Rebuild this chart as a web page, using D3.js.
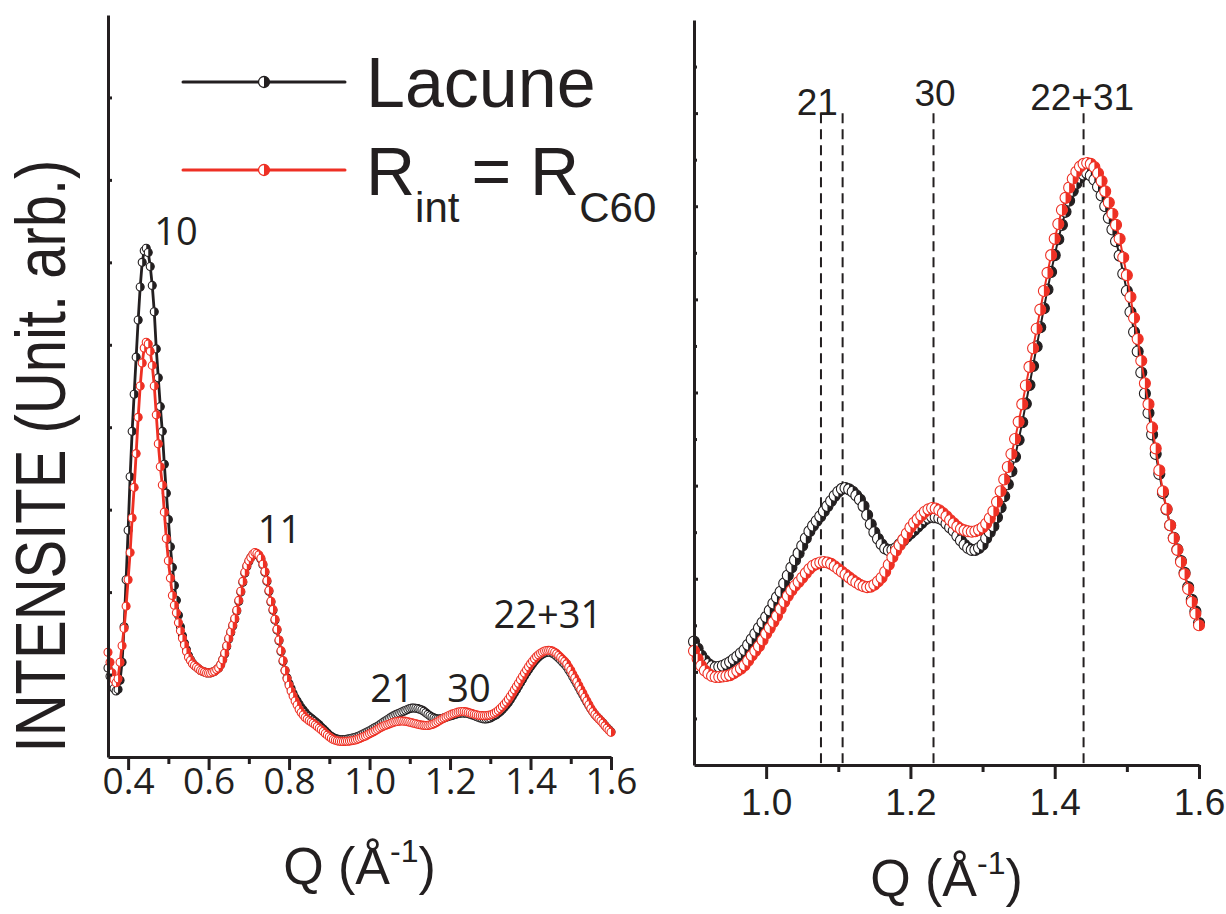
<!DOCTYPE html>
<html><head><meta charset="utf-8">
<script src="https://cdn.jsdelivr.net/npm/d3@7"></script>
<style>
html,body{margin:0;padding:0;background:#fff;}
svg{display:block;}
text{fill:#231f20;}
</style></head>
<body>
<svg id="chart" width="1226" height="914"></svg>
<script>
// ---------------- DATA ----------------
const Q_START = 0.35, Q_STEP = 0.005;   // sampling grid of Q (Å^-1)

// "Lacune" series (black), one value every 0.005 Å^-1 from 0.35 to 1.60
const lacune = [
 1.08,0.98,0.89,0.83,0.80,0.82,0.93,1.15,1.58,2.15,
 2.75,3.40,3.95,4.40,4.85,5.30,5.70,6.00,6.14,6.17,
 6.12,5.95,5.72,5.40,4.95,4.60,4.25,3.95,3.55,3.20,
 2.88,2.55,2.30,2.08,1.90,1.72,1.58,1.47,1.38,1.30,
 1.23,1.18,1.14,1.11,1.09,1.07,1.05,1.04,1.03,1.02,
 1.02,1.02,1.03,1.04,1.06,1.08,1.12,1.18,1.25,1.34,
 1.43,1.51,1.59,1.67,1.77,1.89,2.00,2.12,2.23,2.31,
 2.37,2.42,2.45,2.47,2.46,2.44,2.40,2.33,2.24,2.13,
 2.01,1.88,1.78,1.66,1.54,1.41,1.28,1.16,1.05,0.96,
 0.89,0.83,0.77,0.72,0.68,0.64,0.60,0.57,0.54,0.51,
 0.49,0.47,0.45,0.43,0.41,0.39,0.36,0.34,0.315,0.29,
 0.265,0.25,0.235,0.225,0.217,0.212,0.21,0.211,0.213,0.217,
 0.221,0.227,0.233,0.24,0.247,0.258,0.27,0.282,0.294,0.306,
 0.318,0.332,0.347,0.360,0.372,0.390,0.407,0.424,0.440,0.455,
 0.471,0.487,0.502,0.514,0.524,0.534,0.545,0.556,0.567,0.578,
 0.587,0.593,0.595,0.592,0.587,0.579,0.570,0.556,0.537,0.517,
 0.500,0.486,0.474,0.465,0.461,0.462,0.466,0.474,0.482,0.490,
 0.497,0.504,0.512,0.519,0.527,0.531,0.533,0.532,0.530,0.526,
 0.518,0.510,0.503,0.492,0.482,0.473,0.466,0.462,0.462,0.466,
 0.473,0.487,0.500,0.513,0.532,0.553,0.577,0.603,0.631,0.662,
 0.698,0.736,0.776,0.816,0.857,0.899,0.940,0.981,1.021,1.059,
 1.095,1.129,1.160,1.188,1.212,1.233,1.249,1.261,1.268,1.271,
 1.266,1.257,1.242,1.223,1.200,1.175,1.150,1.125,1.094,1.055,
 1.018,0.973,0.930,0.888,0.843,0.798,0.756,0.710,0.668,0.625,
 0.584,0.549,0.515,0.488,0.463,0.438,0.413,0.382,0.355,0.330,
 0.305
];

// "R_int = R_C60" series (red)
const rint = [
 1.27,1.15,1.02,0.94,0.90,0.95,1.15,1.35,1.56,1.83,
 2.15,2.48,2.90,3.27,3.68,4.12,4.50,4.78,4.96,5.03,
 5.01,4.92,4.75,4.50,4.15,3.80,3.52,3.30,2.97,2.65,
 2.38,2.17,1.96,1.84,1.75,1.63,1.53,1.44,1.36,1.28,
 1.21,1.17,1.13,1.11,1.09,1.07,1.05,1.04,1.03,1.02,
 1.02,1.02,1.03,1.04,1.06,1.08,1.12,1.18,1.26,1.35,
 1.44,1.52,1.60,1.68,1.78,1.90,2.01,2.13,2.24,2.32,
 2.38,2.42,2.46,2.48,2.47,2.45,2.41,2.34,2.25,2.14,
 2.02,1.89,1.79,1.67,1.55,1.42,1.29,1.17,1.05,0.95,
 0.87,0.80,0.74,0.68,0.63,0.58,0.54,0.51,0.48,0.46,
 0.44,0.425,0.41,0.39,0.37,0.35,0.33,0.31,0.285,0.265,
 0.245,0.228,0.213,0.203,0.196,0.191,0.189,0.189,0.19,0.191,
 0.193,0.197,0.202,0.207,0.214,0.224,0.235,0.245,0.255,0.268,
 0.282,0.294,0.307,0.320,0.335,0.350,0.363,0.375,0.385,0.393,
 0.402,0.412,0.421,0.428,0.432,0.435,0.436,0.435,0.432,0.427,
 0.421,0.415,0.409,0.403,0.397,0.392,0.387,0.384,0.382,0.383,
 0.387,0.394,0.402,0.415,0.430,0.446,0.460,0.472,0.484,0.497,
 0.510,0.520,0.528,0.536,0.544,0.549,0.552,0.551,0.547,0.541,
 0.534,0.526,0.519,0.512,0.507,0.504,0.502,0.501,0.502,0.505,
 0.510,0.518,0.530,0.545,0.565,0.588,0.613,0.640,0.668,0.700,
 0.737,0.775,0.815,0.855,0.895,0.937,0.978,1.018,1.057,1.095,
 1.130,1.162,1.192,1.218,1.240,1.259,1.274,1.285,1.291,1.293,
 1.291,1.284,1.271,1.254,1.232,1.208,1.184,1.160,1.130,1.090,
 1.052,1.005,0.960,0.915,0.868,0.820,0.775,0.725,0.680,0.633,
 0.588,0.550,0.515,0.487,0.462,0.436,0.410,0.378,0.350,0.325,
 0.300
];

const seriesNames = ["Lacune", "R_int = R_C60"];

// axis ticks
const leftMajorTicks  = [0.4, 0.6, 0.8, 1.0, 1.2, 1.4, 1.6];
const leftMinorTicks  = [0.5, 0.7, 0.9, 1.1, 1.3, 1.5];
const leftYTicks      = [1, 2, 3, 4, 5, 6, 7, 8];
const rightMajorTicks = [1.0, 1.2, 1.4, 1.6];
const rightMinorTicks = [1.1, 1.3, 1.5];
const rightYMajor     = [0.2, 0.4, 0.6, 0.8, 1.0, 1.2, 1.4];
const rightYMinor     = [0.1, 0.3, 0.5, 0.7, 0.9, 1.1, 1.3, 1.5];

// reflection labels (position in data units: q, intensity of baseline)
const leftLabels  = [
  {t:"10",    q:0.519, v:6.21},
  {t:"11",    q:0.776, v:2.60},
  {t:"21",    q:1.056, v:0.667},
  {t:"30",    q:1.247, v:0.667},
  {t:"22+31", q:1.443, v:1.566}
];
const rightLabels = [
  {t:"21",    q:1.071, v:1.396},
  {t:"30",    q:1.234, v:1.415},
  {t:"22+31", q:1.438, v:1.407}
];
const dashQ = [1.076, 1.106, 1.232, 1.440];
const DASH_TOP = 1.40;

// ---------------- DRAW ----------------
const INK = "#231f20", RED = "#ee3024";
const svg = d3.select("#chart");

const rows = lacune.map((v, i) => ({q: +(Q_START + i * Q_STEP).toFixed(3), a: v, b: rint[i]}));

const xL = d3.scaleLinear().domain([0.35, 1.6]).range([108, 611]);
const yL = d3.scaleLinear().domain([0, 9]).range([757, 15]);
const xR = d3.scaleLinear().domain([0.9, 1.6]).range([694, 1199]);
const yR = d3.scaleLinear().domain([0, 1.6]).range([765, 20]);

function drawSeries(g, rowsSub, x, y, key, color, r, lw) {
  const line = d3.line().x(d => x(d.q)).y(d => y(d[key]));
  g.append("path").datum(rowsSub).attr("d", line)
    .attr("fill", "none").attr("stroke", color).attr("stroke-width", lw)
    .attr("stroke-linejoin", "round");
  const m = g.append("g").selectAll("g").data(rowsSub).join("g")
    .attr("transform", d => `translate(${x(d.q)},${y(d[key])})`);
  m.append("circle").attr("r", r).attr("fill", "#fff")
    .attr("stroke", color).attr("stroke-width", 1.1);
  m.append("path").attr("d", `M0,${-r}A${r},${r} 0 0 1 0,${r}Z`).attr("fill", color);
}

function styleAxis(g, w) {
  g.selectAll(".domain").attr("stroke", INK).attr("stroke-width", w);
  g.selectAll(".tick line").attr("stroke", INK).attr("stroke-width", w);
}

// ---- LEFT PANEL ----
const gL = svg.append("g");
drawSeries(gL, rows, xL, yL, "a", INK, 4, 2.8);
drawSeries(gL, rows, xL, yL, "b", RED, 4, 2.8);

const axLx = gL.append("g").attr("transform", `translate(0,${yL(0)})`)
  .call(d3.axisBottom(xL).tickValues(leftMajorTicks).tickSize(13).tickSizeOuter(0)
    .tickFormat(d3.format(".1f")));
styleAxis(axLx, 3);
axLx.selectAll(".tick text").attr("font-family", "'Open Sans', sans-serif")
  .attr("font-size", 37).attr("fill", INK).attr("dy", 0).attr("y", 37);
const axLxm = gL.append("g").attr("transform", `translate(0,${yL(0)})`)
  .call(d3.axisBottom(xL).tickValues(leftMinorTicks).tickSize(7).tickFormat(""));
axLxm.select(".domain").remove();
styleAxis(axLxm, 3);

const axLy = gL.append("g").attr("transform", `translate(${xL(0.35)},0)`)
  .call(d3.axisRight(yL).tickValues(leftYTicks).tickSize(4).tickSizeOuter(0).tickFormat(""));
styleAxis(axLy, 3);

gL.selectAll("text.lab").data(leftLabels).join("text").attr("class", "lab")
  .attr("x", d => xL(d.q)).attr("y", d => yL(d.v))
  .attr("text-anchor", "middle").attr("font-family", "'Open Sans', sans-serif")
  .attr("font-size", 38).text(d => d.t);

// ---- RIGHT PANEL ----
const gR = svg.append("g");
const rowsR = rows.filter(d => d.q >= 0.9 - 1e-9);

gR.selectAll("line.dash").data(dashQ).join("line").attr("class", "dash")
  .attr("x1", d => xR(d)).attr("x2", d => xR(d))
  .attr("y1", yR(DASH_TOP)).attr("y2", yR(0))
  .attr("stroke", INK).attr("stroke-width", 2).attr("stroke-dasharray", "10,6");

drawSeries(gR, rowsR, xR, yR, "a", INK, 5.5, 2);
drawSeries(gR, rowsR, xR, yR, "b", RED, 5.5, 2);

const axRx = gR.append("g").attr("transform", `translate(0,${yR(0)})`)
  .call(d3.axisBottom(xR).tickValues(rightMajorTicks).tickSize(14).tickSizeOuter(0)
    .tickFormat(d3.format(".1f")));
styleAxis(axRx, 3);
axRx.selectAll(".tick text").attr("font-family", "'Liberation Sans', Arial, sans-serif")
  .attr("font-size", 37).attr("fill", INK).attr("dy", 0).attr("y", 50);
const axRxm = gR.append("g").attr("transform", `translate(0,${yR(0)})`)
  .call(d3.axisBottom(xR).tickValues(rightMinorTicks).tickSize(7).tickFormat(""));
axRxm.select(".domain").remove();
styleAxis(axRxm, 3);

const axRy = gR.append("g").attr("transform", `translate(${xR(0.9)},0)`)
  .call(d3.axisRight(yR).tickValues(rightYMajor).tickSize(4).tickSizeOuter(0).tickFormat(""));
styleAxis(axRy, 3);
const axRym = gR.append("g").attr("transform", `translate(${xR(0.9)},0)`)
  .call(d3.axisRight(yR).tickValues(rightYMinor).tickSize(3).tickFormat(""));
axRym.select(".domain").remove();
styleAxis(axRym, 3);

gR.selectAll("text.lab").data(rightLabels).join("text").attr("class", "lab")
  .attr("x", d => xR(d.q)).attr("y", d => yR(d.v))
  .attr("text-anchor", "middle").attr("font-family", "'Liberation Sans', Arial, sans-serif")
  .attr("font-size", 37).text(d => d.t);

// ---- TITLES ----
function qTitle(cx, baseline) {
  const t = svg.append("text").attr("x", cx).attr("y", baseline)
    .attr("text-anchor", "middle").attr("font-family", "'Liberation Sans', Arial, sans-serif")
    .attr("font-size", 52);
  t.append("tspan").text("Q (Å");
  t.append("tspan").attr("font-size", 32).attr("dy", -22).text("-1");
  t.append("tspan").attr("dy", 22).text(")");
}
qTitle((xL.range()[0] + xL.range()[1]) / 2, 884);
qTitle((xR.range()[0] + xR.range()[1]) / 2, 896);

svg.append("text")
  .attr("transform", "translate(65,456) rotate(-90) scale(1,1.2)")
  .attr("text-anchor", "middle").attr("font-family", "'Liberation Sans', Arial, sans-serif")
  .attr("font-size", 58).text("INTENSITE (Unit. arb.)");

// ---- LEGEND ----
const legend = svg.append("g");
[[INK, 82], [RED, 170]].forEach(([c, y]) => {
  legend.append("line").attr("x1", 183).attr("x2", 345).attr("y1", y).attr("y2", y)
    .attr("stroke", c).attr("stroke-width", 3).attr("stroke-linecap", "round");
  const m = legend.append("g").attr("transform", `translate(264,${y})`);
  m.append("circle").attr("r", 5.5).attr("fill", "#fff").attr("stroke", c).attr("stroke-width", 1.3);
  m.append("path").attr("d", "M0,-5.5A5.5,5.5 0 0 1 0,5.5Z").attr("fill", c);
});
legend.append("text").attr("x", 366).attr("y", 107)
  .attr("font-family", "'Liberation Sans', Arial, sans-serif").attr("font-size", 70)
  .text(seriesNames[0]);
const t2 = legend.append("text").attr("y", 195)
  .attr("font-family", "'Liberation Sans', Arial, sans-serif").attr("font-size", 68);
t2.append("tspan").attr("x", 366).text("R");
t2.append("tspan").attr("font-size", 42).attr("dy", 27).text("int");
t2.append("tspan").attr("dy", -27).attr("dx", 12).text("= R");
t2.append("tspan").attr("font-size", 42).attr("dy", 27).text("C60");
</script>
</body></html>
